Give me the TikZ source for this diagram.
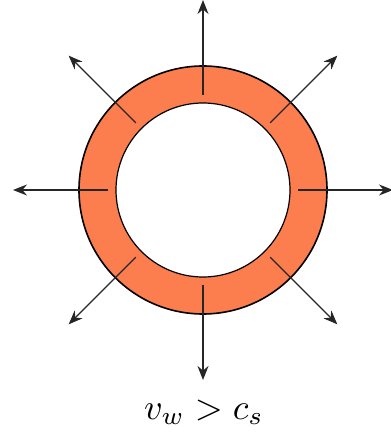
\documentclass[tikz,border=0pt]{standalone}
\usepackage{amsmath}
\usepackage{tikz}
\usetikzlibrary{arrows.meta, positioning, calc}
\definecolor{shellorange}{RGB}{252,125,78}
\tikzset{
  shell/.style={draw=black, line width=1.6pt, fill=shellorange},
  hole/.style={draw=black, line width=1.2pt, fill=white},
  wind/.style={-{Stealth[length=14pt, width=11pt]}, line width=1.4pt, draw=black!85},
}

\begin{document}
\begin{tikzpicture}[x=1pt, y=1pt]
\useasboundingbox (0,0) rectangle (391,440);
\coordinate (c) at (203,250);
\filldraw[shell] (c) circle (124);
\filldraw[hole] (c) circle (87);
\foreach \a in {0,45,...,315} {
  \coordinate (s\a) at ($(c)+(\a:95)$);
  \coordinate (e\a) at ($(c)+(\a:190)$);
  \draw[wind] (s\a) -- (e\a);
}
\node[scale=3.6] (lbl) at (204,28) {$v_w > c_s$};
\end{tikzpicture}
\end{document}
